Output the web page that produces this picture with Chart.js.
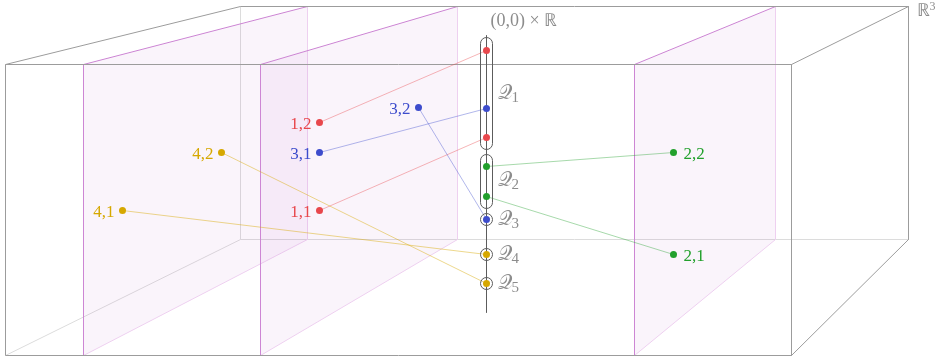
<!DOCTYPE html>
<html>
<head>
<meta charset="utf-8">
<script src="https://cdn.jsdelivr.net/npm/chart.js@4"></script>
<style>
html, body { margin: 0; padding: 0; background: #fff; }
#fib { display: block; }
</style>
</head>
<body>
<canvas id="fib" width="944" height="362"></canvas>
<script>
// the box R^3 : front face and back face
var boxFrontX = [5, 791];
var boxFrontY = [64, 355];
var boxBackX = [240, 908];
var boxBackY = [6, 239];

// the three vertical slices (front edge x, back edge x)
var planeFrontX = [83, 260, 634];
var planeBackX = [307, 457, 775];

// the line (0,0) x R
var axisX = 486;
var axisY = [35, 312];

// points i,j and the height where each one lands on the line
var pointLabels = ['1,1', '1,2', '2,1', '2,2', '3,1', '3,2', '4,1', '4,2'];
var pointX = [319, 319, 673, 673, 319, 418, 122, 221];
var pointY = [210, 122, 254, 152, 152, 107, 210, 152];
var fiberY = [137, 50, 196, 166, 108, 219, 254, 283];
var pointGroup = [0, 0, 1, 1, 2, 2, 3, 3];
var groupColors = ['#e8474c', '#22a02c', '#3d4ccc', '#d6a800'];
var groupLines = ['rgba(232,71,76,0.4)', 'rgba(34,160,44,0.4)', 'rgba(61,76,204,0.4)', 'rgba(214,168,0,0.45)'];

// Q_k pieces on the line
var qNames = ['1', '2', '3', '4', '5'];
var qTop = [43, 160, 219, 254, 283];
var qBottom = [143, 202, 219, 254, 283];
var qLabelY = [98, 185, 224, 259, 288];

var dark = '#9c9c9c', light = '#dcdcdc';
var plum = '#cd86d4', plumLight = '#eed0f0';

function P(x, y) { return {x: x, y: y}; }
function seg(a, b, color) {
  return {data: [a, b], showLine: true, borderColor: color, borderWidth: 1,
          pointRadius: 0, fill: false};
}

var L = [];  // bottom -> top

// hidden edges of the box
L.push(seg(P(boxBackX[0], boxBackY[0]), P(boxBackX[0], boxBackY[1]), light));
L.push(seg(P(boxBackX[0], boxBackY[1]), P(boxBackX[1], boxBackY[1]), light));
L.push(seg(P(boxFrontX[0], boxFrontY[1]), P(boxBackX[0], boxBackY[1]), light));

// slices: top edge, bottom edge filled up to it, then the two verticals
for (var i = 0; i < planeFrontX.length; i++) {
  L.push(seg(P(planeFrontX[i], boxFrontY[0]), P(planeBackX[i], boxBackY[0]), plum));
  var bottom = seg(P(planeFrontX[i], boxFrontY[1]), P(planeBackX[i], boxBackY[1]), plumLight);
  bottom.fill = '-1';
  bottom.backgroundColor = 'rgba(190,100,200,0.07)';
  L.push(bottom);
  L.push(seg(P(planeBackX[i], boxBackY[0]), P(planeBackX[i], boxBackY[1]), plumLight));
  L.push(seg(P(planeFrontX[i], boxFrontY[0]), P(planeFrontX[i], boxFrontY[1]), plum));
}

// visible edges of the box
L.push({data: [P(boxFrontX[0], boxFrontY[0]), P(boxFrontX[1], boxFrontY[0]), P(boxFrontX[1], boxFrontY[1]),
               P(boxFrontX[0], boxFrontY[1]), P(boxFrontX[0], boxFrontY[0])],
        showLine: true, borderColor: dark, borderWidth: 1, pointRadius: 0, fill: false});
L.push(seg(P(boxFrontX[0], boxFrontY[0]), P(boxBackX[0], boxBackY[0]), dark));
L.push(seg(P(boxBackX[0], boxBackY[0]), P(boxBackX[1], boxBackY[0]), dark));
L.push(seg(P(boxFrontX[1], boxFrontY[0]), P(boxBackX[1], boxBackY[0]), dark));
L.push(seg(P(boxBackX[1], boxBackY[0]), P(boxBackX[1], boxBackY[1]), dark));
L.push(seg(P(boxFrontX[1], boxFrontY[1]), P(boxBackX[1], boxBackY[1]), dark));

// the line
L.push(seg(P(axisX, axisY[0]), P(axisX, axisY[1]), '#5c5c5c'));

// maps from the points to the line
for (var k = 0; k < pointLabels.length; k++) {
  L.push(seg(P(pointX[k], pointY[k]), P(axisX, fiberY[k]), groupLines[pointGroup[k]]));
}

// the points themselves
var pts = [], ptCol = [];
for (var k = 0; k < pointLabels.length; k++) {
  pts.push(P(pointX[k], pointY[k]));
  ptCol.push(groupColors[pointGroup[k]]);
  pts.push(P(axisX, fiberY[k]));
  ptCol.push(groupColors[pointGroup[k]]);
}
L.push({data: pts, showLine: false, pointRadius: 3.5, pointBorderWidth: 0,
        pointBackgroundColor: ptCol, pointBorderColor: ptCol});

L.forEach(function (d, i) { d.order = L.length - i; });

var textPlugin = {
  id: 'texts',
  afterDatasetsDraw: function (chart) {
    var ctx = chart.ctx, xs = chart.scales.x, ys = chart.scales.y;
    var px = function (v) { return xs.getPixelForValue(v); };
    var py = function (v) { return ys.getPixelForValue(v); };
    ctx.save();
    // Q pieces
    ctx.strokeStyle = '#5c5c5c';
    ctx.lineWidth = 1;
    for (var q = 0; q < qNames.length; q++) {
      var r = 6, cx = px(axisX), t = py(qTop[q]), b = py(qBottom[q]);
      ctx.beginPath();
      ctx.arc(cx, t, r, Math.PI, 0);
      ctx.lineTo(cx + r, b);
      ctx.arc(cx, b, r, 0, Math.PI);
      ctx.closePath();
      ctx.stroke();
      ctx.fillStyle = '#8c8c8c';
      ctx.textAlign = 'left';
      ctx.font = "20px 'Liberation Serif'";
      ctx.fillText('\u{1D4AC}', px(497), py(qLabelY[q]));
      var w = ctx.measureText('\u{1D4AC}').width;
      ctx.font = "15px 'Liberation Serif'";
      ctx.fillText(qNames[q], px(497) + w, py(qLabelY[q]) + 3);
    }
    // point labels
    ctx.font = "17px 'Liberation Serif'";
    for (var k = 0; k < pointLabels.length; k++) {
      ctx.fillStyle = groupColors[pointGroup[k]];
      var right = pointX[k] > axisX;
      ctx.textAlign = right ? 'left' : 'right';
      ctx.fillText(pointLabels[k], px(pointX[k] + (right ? 10 : -8)), py(pointY[k] + 6));
    }
    // titles
    ctx.fillStyle = '#8c8c8c';
    ctx.textAlign = 'left';
    ctx.font = "18px 'Liberation Serif'";
    ctx.fillText('(0,0) \u00d7 \u211d', px(490), py(25));
    ctx.fillText('\u211d', px(916), py(15));
    ctx.font = "12px 'Liberation Serif'";
    ctx.fillText('3', px(929), py(9));
    ctx.restore();
  }
};

var fib = new Chart(document.getElementById('fib'), {
  type: 'scatter',
  data: {datasets: L},
  options: {
    responsive: false,
    animation: false,
    layout: {padding: 0, autoPadding: false},
    plugins: {legend: {display: false}, tooltip: {enabled: false}},
    scales: {
      x: {type: 'linear', min: -0.5, max: 943.5, display: false},
      y: {type: 'linear', min: -0.5, max: 361.5, reverse: true, display: false}
    }
  },
  plugins: [textPlugin]
});
</script>
</body>
</html>
